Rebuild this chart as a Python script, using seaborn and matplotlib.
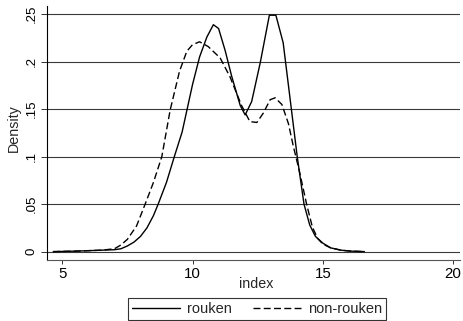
import numpy as np
import pandas as pd
import matplotlib
matplotlib.use("Agg")
import matplotlib.pyplot as plt
import seaborn as sns

# ---- data ----
rouken_x = [4.65, 5.5, 6.0, 6.5, 7.0, 7.25, 7.5, 7.75, 8.0, 8.25, 8.5, 8.68, 9.0, 9.3,
            9.6, 9.8, 10.0, 10.27, 10.55, 10.8, 11.0, 11.25, 11.5, 11.83, 12.02, 12.27,
            12.6, 12.95, 13.2, 13.48, 13.75, 14.02, 14.28, 14.5, 14.72, 15.0, 15.3,
            15.7, 16.1, 16.6]
rouken_y = [0.000, 0.0005, 0.001, 0.0015, 0.002, 0.003, 0.006, 0.010, 0.016, 0.025,
            0.038, 0.050, 0.073, 0.100, 0.126, 0.151, 0.176, 0.205, 0.226, 0.239,
            0.235, 0.212, 0.185, 0.154, 0.144, 0.158, 0.199, 0.249, 0.249, 0.220,
            0.160, 0.100, 0.050, 0.028, 0.016, 0.009, 0.004, 0.0015, 0.0005, 0.0]

nonrouken_x = [4.65, 5.5, 6.0, 6.5, 7.0, 7.25, 7.5, 7.85, 8.18, 8.5, 8.82, 9.14, 9.5,
               9.78, 10.0, 10.27, 10.6, 11.06, 11.44, 11.88, 12.2, 12.47, 12.72, 12.98,
               13.17, 13.43, 13.68, 13.87, 14.1, 14.38, 14.6, 14.8, 15.0, 15.3, 15.7,
               16.1, 16.6]
nonrouken_y = [0.000, 0.0005, 0.001, 0.0015, 0.003, 0.007, 0.013, 0.027, 0.050, 0.073,
               0.100, 0.149, 0.190, 0.211, 0.218, 0.221, 0.216, 0.204, 0.184, 0.154,
               0.137, 0.136, 0.146, 0.160, 0.162, 0.155, 0.135, 0.111, 0.085, 0.050,
               0.026, 0.014, 0.008, 0.004, 0.0015, 0.0005, 0.0]

series_names = ["rouken", "non-rouken"]
x_ticks = [5, 10, 15, 20]
y_ticks = [0, 0.05, 0.1, 0.15, 0.2, 0.25]
y_tick_labels = ["0", ".05", ".1", ".15", ".2", ".25"]

df = pd.concat([
    pd.DataFrame({"index": rouken_x, "Density": rouken_y, "group": series_names[0]}),
    pd.DataFrame({"index": nonrouken_x, "Density": nonrouken_y, "group": series_names[1]}),
], ignore_index=True)

sns.set_style("ticks")
plt.rcParams["font.family"] = ["Liberation Sans", "DejaVu Sans"]

W, H = 463, 321
fig = plt.figure(figsize=(W / 100, H / 100), dpi=100)
L, R, T, B = 46.7, 460, 6, 259.5
ax = fig.add_axes([L / W, 1 - B / H, (R - L) / W, (B - T) / H])

sns.lineplot(data=df, x="index", y="Density", hue="group", style="group",
             hue_order=series_names, style_order=series_names,
             palette=["black", "black"],
             dashes={"rouken": "", "non-rouken": (5, 2.4)},
             linewidth=1.0, ax=ax, legend=False, sort=False)

ax.set_xlim(4.40, 20.27)
ax.set_ylim(-0.0083, 0.2587)
ax.set_xticks(x_ticks)
ax.set_xticklabels([str(v) for v in x_ticks], fontsize=10.8)
ax.set_yticks(y_ticks)
ax.set_yticklabels(y_tick_labels, fontsize=9.5, rotation=90, va="center")

ax.yaxis.grid(True, color="#3a3a3a", linewidth=0.8)
ax.xaxis.grid(False)
ax.set_axisbelow(True)

for s in ["top", "right"]:
    ax.spines[s].set_visible(False)
ax.spines["left"].set_color("black")
ax.spines["left"].set_linewidth(0.8)
ax.spines["bottom"].set_color("#555555")
ax.spines["bottom"].set_linewidth(0.8)
ax.tick_params(axis="x", length=3.2, width=0.7, color="#333333", pad=2, labelcolor="black")
ax.tick_params(axis="y", length=4.2, width=0.7, color="#333333", pad=2.2, labelcolor="black")

ax.set_xlabel("index", fontsize=10.3)
ax.set_ylabel("Density", fontsize=10.3)
ax.xaxis.set_label_coords((256.3 - L) / (R - L), (B - 284) / (B - T))
ax.xaxis.label.set_va("center")
ax.yaxis.set_label_coords((14 - L) / (R - L), (B - 128.5) / (B - T))
ax.yaxis.label.set_va("center")

handles = [
    plt.Line2D([], [], color="black", lw=1.0),
    plt.Line2D([], [], color="black", lw=1.0, dashes=(5, 2.4)),
]
leg = fig.legend(handles, series_names, loc="upper center",
                 bbox_to_anchor=(257 / W, 1 - 298.3 / H), ncol=2,
                 frameon=True, fancybox=False, edgecolor="black",
                 fontsize=10.5, handlelength=3.3, handletextpad=0.5,
                 columnspacing=1.4, borderpad=0.25, borderaxespad=0)
leg.get_frame().set_linewidth(0.8)

fig.savefig("out.png", dpi=100)
